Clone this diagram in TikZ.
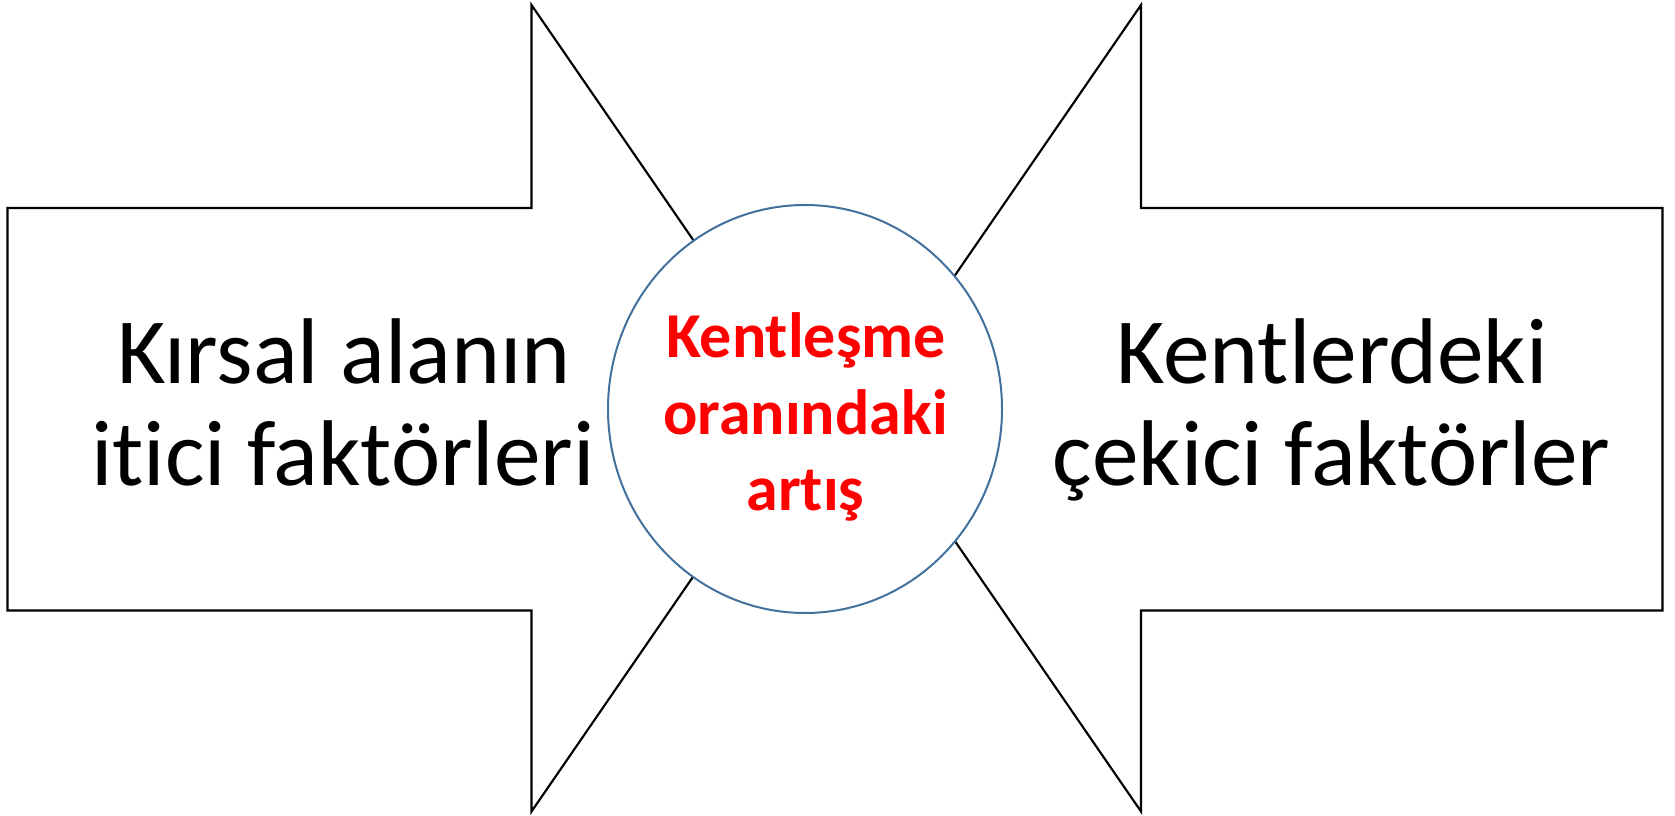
\documentclass[tikz,border=0pt]{standalone}
\usepackage{fontspec}
\setmainfont[Ligatures=CommonOff]{Carlito}
\usetikzlibrary{shapes.geometric}
\definecolor{circblue}{HTML}{41719C}
\definecolor{txtred}{HTML}{FF0000}
\tikzset{
  arrowshape/.style={draw=black, line width=1.6pt, fill=white, line join=miter},
  hubcircle/.style={shape=ellipse, draw=circblue, line width=1.5pt, fill=white, inner sep=0pt,
    minimum width=295.5pt, minimum height=306pt},
  sidetext/.style={anchor=base, inner sep=0pt, font=\fontsize{70}{77}\selectfont},
  hubtext/.style={anchor=base, inner sep=0pt, text=txtred, font=\bfseries\fontsize{48}{57}\selectfont}
}
\begin{document}
\begin{tikzpicture}[x=0.75pt, y=-0.75pt]
\useasboundingbox (0,0) rectangle (1675,816);
% left arrow
\draw[arrowshape] (7.5,208) -- (531.5,208) -- (531.5,5) -- (809,408.25) -- (531.5,811.5) -- (531.5,610.5) -- (7.5,610.5) -- cycle;
% right arrow
\draw[arrowshape] (1662.5,208) -- (1141,208) -- (1141,5) -- (863.5,408.25) -- (1141,811.5) -- (1141,610.5) -- (1662.5,610.5) -- cycle;
% circle
\node[hubcircle] (hubc) at (805,409) {};
% left text
\node[sidetext] (l1) at (344,384) {Kırsal alanın};
\node[sidetext] (l2) at (343,486) {itici faktörleri};
% right text
\node[sidetext] (r1) at (1332,384) {Kentlerdeki};
\node[sidetext] (r2) at (1331.5,486) {çekici faktörler};
% hub text
\node[hubtext] (h1) at (806,357.3) {Kentleşme};
\node[hubtext] (h2) at (805.5,435) {oranındaki};
\node[hubtext] (h3) at (805.5,510) {artış};
\end{tikzpicture}
\end{document}
